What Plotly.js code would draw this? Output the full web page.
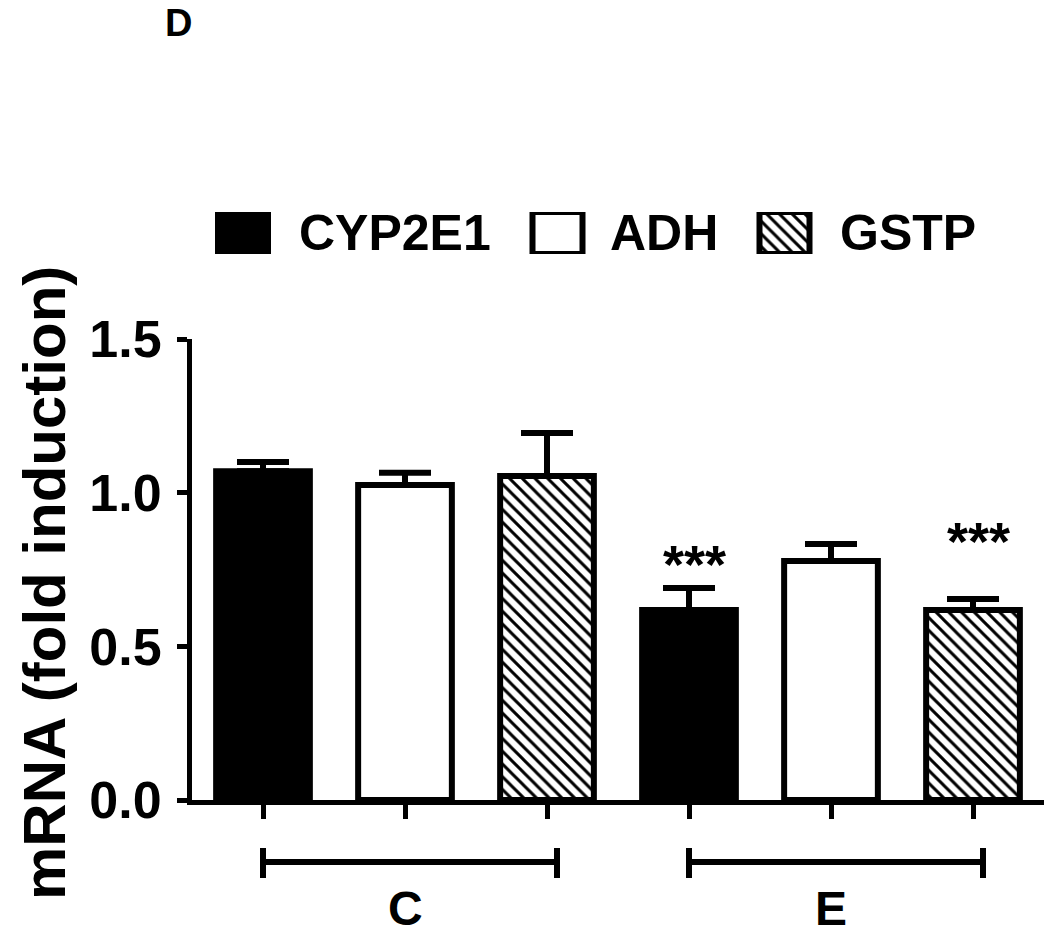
<!DOCTYPE html>
<html>
<head>
<meta charset="utf-8">
<script src="https://cdn.plot.ly/plotly-3.0.1.min.js"></script>
<style>html,body{margin:0;padding:0;background:#fff;}#chart{width:1050px;height:938px;}</style>
</head>
<body>
<div id="chart"></div>
<script>
// ---- data ----
const groups = ['C', 'E'];
const seriesNames = ['CYP2E1', 'ADH', 'GSTP'];
const cypValues = [1.07, 0.618];
const adhValues = [1.025, 0.778];
const gstpValues = [1.054, 0.618];
const cypErrors = [0.03, 0.072];
const adhErrors = [0.04, 0.055];
const gstpErrors = [0.14, 0.036];
const cypSig = ['', '***'];
const adhSig = ['', ''];
const gstpSig = ['', '***'];
const yTickValues = [0, 0.5, 1.0, 1.5];
const panelLabel = 'D';
const yTitle = 'mRNA (fold induction)';

// ---- styling / layout ----
const FONT = 'Liberation Sans, Arial, Helvetica, sans-serif';
const values = [cypValues, adhValues, gstpValues];
const errors = [cypErrors, adhErrors, gstpErrors];
const sigs = [cypSig, adhSig, gstpSig];
const sigShift = [[0, 0], [0, 0], [0, 34]];
const fills = [
  {color: '#000000'},
  {color: '#ffffff'},
  {color: '#ffffff', pattern: {shape: '\\', fgcolor: '#000000', bgcolor: '#ffffff', size: 9, solidity: 0.33}}
];
const slot = 1 / seriesNames.length;
const gx = groups.map((g, i) => i);

const traces = [];
seriesNames.forEach((name, s) => {
  traces.push({
    type: 'bar',
    name: name,
    x: gx,
    y: values[s],
    marker: Object.assign({line: {color: '#000000', width: 6}}, fills[s]),
    error_y: {type: 'data', array: errors[s], arrayminus: errors[s].map(() => 0), symmetric: false,
              color: '#000000', thickness: 6, width: 26},
    showlegend: false,
    hoverinfo: 'skip',
    xaxis: 'x', yaxis: 'y'
  });
});

// legend swatches (drawn as bars in a small legend subplot)
const legendSwatchX = [243, 557.5, 784.5];
const legendTextX = [297, 608, 838];
seriesNames.forEach((name, s) => {
  traces.push({
    type: 'bar',
    x: [legendSwatchX[s]],
    y: [1],
    width: [50],
    marker: Object.assign({line: {color: '#000000', width: 6}}, fills[s]),
    showlegend: false,
    hoverinfo: 'skip',
    xaxis: 'x2', yaxis: 'y2'
  });
});

const tickVals = [];
gx.forEach(g => seriesNames.forEach((n, s) => tickVals.push(g + (s - 1) * slot)));

const annotations = [];
seriesNames.forEach((name, s) => {
  annotations.push({
    xref: 'x2', yref: 'y2', x: legendTextX[s], y: 0.5, xanchor: 'left', yanchor: 'middle',
    text: name, showarrow: false, font: {family: FONT, size: 50, color: '#000', weight: 'bold'}
  });
  gx.forEach((g, i) => {
    if (sigs[s][i]) {
      annotations.push({
        xref: 'x', yref: 'y', x: g + (s - 1) * slot, y: values[s][i] + errors[s][i],
        xanchor: 'center', yanchor: 'middle', yshift: 24 + sigShift[s][i], xshift: 5,
        text: sigs[s][i], showarrow: false, font: {family: FONT, size: 54, color: '#000', weight: 'bold'}
      });
    }
  });
});
groups.forEach((g, i) => {
  annotations.push({
    xref: 'x', yref: 'paper', x: gx[i], y: -0.2283, xanchor: 'center', yanchor: 'bottom',
    text: g, showarrow: false, font: {family: FONT, size: 48, color: '#000', weight: 'bold'}
  });
});
annotations.push({
  xref: 'paper', yref: 'paper', x: -0.0153, y: 1.3333, xanchor: 'center', yanchor: 'top',
  text: panelLabel, showarrow: false, font: {family: FONT, size: 38, color: '#000', weight: 'bold'}
});
annotations.push({
  xref: 'paper', yref: 'paper', x: -0.1725, y: 0.3617, xanchor: 'center', yanchor: 'middle',
  textangle: -90, text: yTitle, showarrow: false,
  font: {family: FONT, size: 60, color: '#000', weight: 'bold'}
});

const shapes = [];
gx.forEach(g => {
  const x0 = g - slot, x1 = g + slot + 10 / 426;
  shapes.push({type: 'line', xref: 'x', yref: 'paper', x0: x0, x1: x1, y0: -0.1033, y1: -0.1033,
               line: {color: '#000', width: 6}});
  [x0, x1].forEach(xx => shapes.push({type: 'line', xref: 'x', yref: 'paper', x0: xx, x1: xx,
               y0: -0.08, y1: -0.13, line: {color: '#000', width: 6}}));
});

const layout = {
  width: 1050, height: 938,
  margin: {l: 192, r: 6, t: 200, b: 138},
  paper_bgcolor: '#ffffff', plot_bgcolor: '#ffffff',
  barmode: 'group', bargap: 0, bargroupgap: 0.34,
  showlegend: false,
  xaxis: {
    domain: [0, 1], range: [-0.5, 1.5], type: 'linear',
    showgrid: false, zeroline: false, showline: true, linecolor: '#000', linewidth: 5,
    tickmode: 'array', tickvals: tickVals, ticktext: tickVals.map(() => ''),
    ticks: 'outside', ticklen: 14, tickwidth: 5, tickcolor: '#000', showticklabels: false,
    fixedrange: true
  },
  yaxis: {
    domain: [0, 0.7683], range: [0, 1.5],
    showgrid: false, zeroline: false, showline: true, linecolor: '#000', linewidth: 5,
    tickmode: 'array', tickvals: yTickValues, ticktext: yTickValues.map(v => v.toFixed(1)),
    ticks: 'outside', ticklen: 10, tickwidth: 5, tickcolor: '#000',
    ticklabelstandoff: 5,
    tickfont: {family: FONT, size: 52, color: '#000', weight: 'bold'},
    fixedrange: true
  },
  xaxis2: {domain: [0, 1], range: [192, 1044], visible: false, anchor: 'y2', fixedrange: true},
  yaxis2: {domain: [0.91, 0.98], range: [0, 1], visible: false, anchor: 'x2', fixedrange: true},
  annotations: annotations,
  shapes: shapes
};

Plotly.newPlot('chart', traces, layout, {displayModeBar: false, staticPlot: true});
</script>
</body>
</html>
